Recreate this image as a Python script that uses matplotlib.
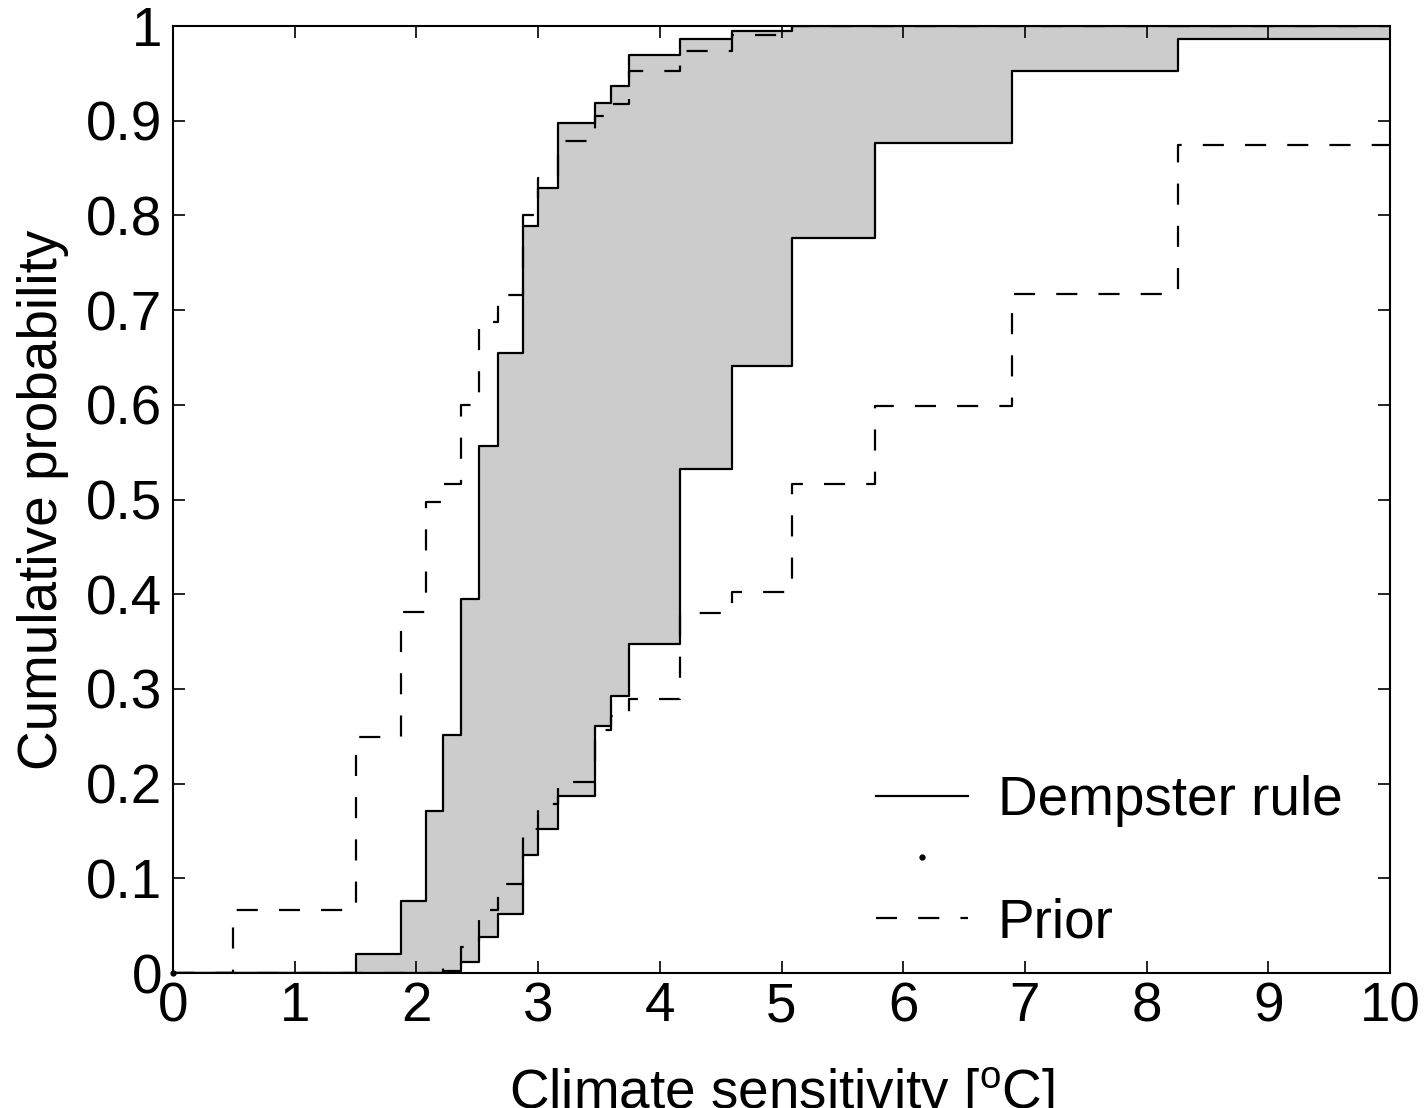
import numpy as np
import matplotlib
matplotlib.use("Agg")
import matplotlib.pyplot as plt

plt.rcParams['font.family'] = ['Liberation Sans', 'DejaVu Sans']
plt.rcParams['mathtext.fontset'] = 'custom'
plt.rcParams['mathtext.rm'] = 'Liberation Sans'
plt.rcParams['mathtext.it'] = 'Liberation Sans:italic'

# ---- data (step locations and cumulative probabilities) ----
dem_upper_x = [0, 1.504, 1.873, 2.076, 2.222, 2.364, 2.514, 2.670, 2.873, 2.997,
               3.164, 3.465, 3.597, 3.747, 4.166, 4.591, 5.089, 10]
dem_upper_y = [0, 0.020, 0.076, 0.171, 0.251, 0.395, 0.557, 0.655, 0.789, 0.829,
               0.898, 0.919, 0.937, 0.969, 0.986, 0.995, 1.0, 1.0]

dem_lower_x = [0, 2.222, 2.364, 2.514, 2.670, 2.873, 2.997, 3.164, 3.465, 3.597,
               3.747, 4.166, 4.591, 5.089, 5.768, 6.896, 8.262, 10]
dem_lower_y = [0, 0.0024, 0.012, 0.038, 0.062, 0.125, 0.152, 0.187, 0.261, 0.292,
               0.347, 0.532, 0.641, 0.776, 0.876, 0.953, 0.986, 0.986]

prior_upper_x = [0, 0.490, 1.504, 1.873, 2.076, 2.222, 2.364, 2.514, 2.670, 2.873,
                 2.997, 3.164, 3.465, 3.597, 3.747, 4.166, 4.591, 5.089, 10]
prior_upper_y = [0, 0.066, 0.249, 0.381, 0.497, 0.516, 0.600, 0.687, 0.716, 0.800,
                 0.840, 0.879, 0.905, 0.918, 0.952, 0.974, 0.990, 1.0, 1.0]

prior_lower_x = [0, 2.222, 2.364, 2.514, 2.670, 2.873, 2.997, 3.164, 3.465, 3.597,
                 3.747, 4.166, 4.591, 5.089, 5.768, 6.896, 8.262, 10]
prior_lower_y = [0, 0.0074, 0.027, 0.066, 0.094, 0.152, 0.1785, 0.202, 0.257, 0.271,
                 0.289, 0.3805, 0.402, 0.516, 0.599, 0.717, 0.874, 0.874]

x_ticks = list(range(0, 11))
y_ticks = [0, 0.1, 0.2, 0.3, 0.4, 0.5, 0.6, 0.7, 0.8, 0.9, 1.0]
y_ticklabels = ['0', '0.1', '0.2', '0.3', '0.4', '0.5', '0.6', '0.7', '0.8', '0.9', '1']

FS = 39.5

# ---- figure ----
fig = plt.figure(figsize=(14.27, 11.08), dpi=100)
ax = fig.add_axes([173/1427, 1 - 973/1108, (1390-173)/1427, (973-26)/1108])

# gray fill between Dempster upper and lower
grid = np.array(sorted(set(dem_upper_x) | set(dem_lower_x)))
up_vals = np.array(dem_upper_y)[np.searchsorted(dem_upper_x, grid, side='right') - 1]
lo_vals = np.array(dem_lower_y)[np.searchsorted(dem_lower_x, grid, side='right') - 1]
ax.fill_between(grid, lo_vals, up_vals, step='post', color='#cccccc', linewidth=0)

lw = 1.6
dash = (0, (9.5, 9.5))
ax.step(dem_upper_x, dem_upper_y, where='post', color='black', lw=lw, label='Dempster rule')
ax.step(dem_lower_x, dem_lower_y, where='post', color='black', lw=lw)
ax.plot([0], [0], linestyle='none', marker='.', color='black', markersize=7,
        clip_on=False, label=' ', zorder=5)
ax.step(prior_upper_x, prior_upper_y, where='post', color='black', lw=lw,
        linestyle=dash, label='Prior')
ax.step(prior_lower_x, prior_lower_y, where='post', color='black', lw=lw,
        linestyle=dash)

ax.set_xlim(0, 10)
ax.set_ylim(0, 1)
ax.set_xticks(x_ticks)
ax.set_xticklabels([str(v) for v in x_ticks])
ax.set_yticks(y_ticks)
ax.set_yticklabels(y_ticklabels)
ax.tick_params(direction='in', length=8.6, width=1.2, top=True, right=True,
               labelsize=FS)
ax.tick_params(axis='x', pad=6)
ax.tick_params(axis='y', pad=8)
for s in ax.spines.values():
    s.set_linewidth(1.5)

ax.set_xlabel('Climate sensitivity [$^\\mathrm{o}$C]', fontsize=FS, labelpad=23)
ax.set_ylabel('Cumulative probability', fontsize=FS, labelpad=12)

leg = ax.legend(loc='lower right', frameon=False, fontsize=FS,
                bbox_to_anchor=(0.9805, 0.0), handlelength=1.68,
                handletextpad=0.55, labelspacing=0.17, borderaxespad=0.03)

fig.savefig('out.png', dpi=100)
